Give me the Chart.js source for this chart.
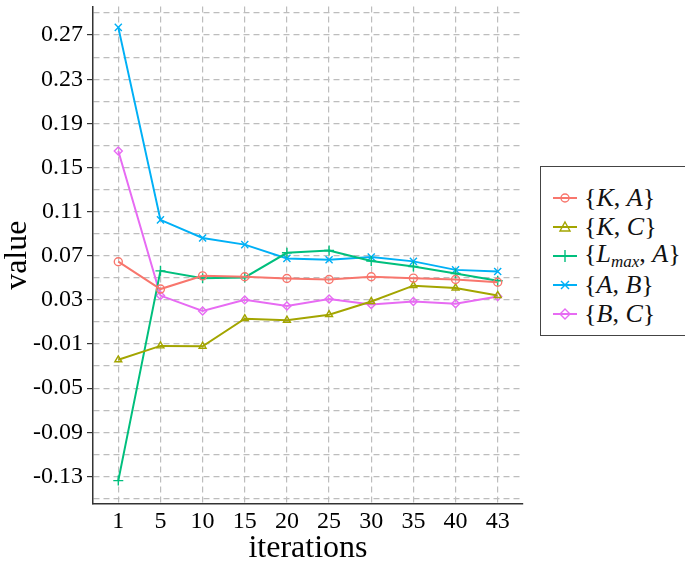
<!DOCTYPE html>
<html>

<head>
    <title>value vs iterations</title>
    <style>
        body { margin: 0; background: #fff; }
        #wrap { position: relative; width: 685px; height: 561px; overflow: hidden; }
        #legend {
            position: absolute; left: 540px; top: 166px; width: 190px; height: 170px;
            border: 1.5px solid #444; border-right: none; background: #fff;
            font-family: "Liberation Serif", serif; font-size: 26px; color: #111;
            padding-top: 16px; box-sizing: border-box;
        }
        .item { display: flex; align-items: center; height: 29px; padding-left: 12px; white-space: nowrap; }
        .item svg { margin-right: 7px; }
        .item i sub { font-size: 17px; vertical-align: -5px; }
    </style>
</head>

<body>
    <div id="wrap">
        <canvas id="myChart" width="685" height="561"></canvas>
        <div id="legend"></div>
    </div>
    <script src="https://cdn.jsdelivr.net/npm/chart.js@4.4.0/dist/chart.umd.min.js"></script>

    <script type="text/javascript">
        const iterations = ['1', '5', '10', '15', '20', '25', '30', '35', '40', '43'];

        const KA   = [0.0646, 0.0398, 0.0518, 0.0510, 0.0494, 0.0485, 0.0510, 0.0497, 0.0485, 0.0460];
        const KC   = [-0.0243, -0.0117, -0.0120, 0.0130, 0.0116, 0.0166, 0.0286, 0.0429, 0.0408, 0.0340];
        const LA   = [-0.1338, 0.0563, 0.0497, 0.0503, 0.0727, 0.0748, 0.0652, 0.0602, 0.0539, 0.0474];
        const AB   = [0.2770, 0.1025, 0.0861, 0.0801, 0.0676, 0.0664, 0.0688, 0.0649, 0.0572, 0.0557];
        const BC   = [0.1650, 0.0339, 0.0199, 0.0300, 0.0244, 0.0309, 0.0259, 0.0286, 0.0264, 0.0330];

        const yLabels = [-0.13, -0.09, -0.05, -0.01, 0.03, 0.07, 0.11, 0.15, 0.19, 0.23, 0.27];

        const series = [
            { name: '{<i>K</i>, <i>A</i>}', data: KA, color: '#F8766D', style: 'circle' },
            { name: '{<i>K</i>, <i>C</i>}', data: KC, color: '#A3A500', style: 'triangle' },
            { name: '{<i>L<sub>max</sub></i>, <i>A</i>}', data: LA, color: '#00BF7D', style: 'cross' },
            { name: '{<i>A</i>, <i>B</i>}', data: AB, color: '#00B0F6', style: 'crossRot' },
            { name: '{<i>B</i>, <i>C</i>}', data: BC, color: '#E76BF3', style: 'rectRot' }
        ];

        const isMajor = v => yLabels.some(l => Math.abs(l - v) < 1e-6);
        const gridGray = '#bdbdbd';
        const axisDark = '#333';

        const ctx = document.getElementById('myChart').getContext('2d');
        const chart = new Chart(ctx, {
            type: 'line',
            data: {
                datasets: series.map(s => ({
                    label: s.name,
                    data: s.data.map((v, i) => ({ x: i, y: v })),
                    borderColor: s.color,
                    backgroundColor: 'rgba(0,0,0,0)',
                    borderWidth: 2,
                    pointStyle: s.style,
                    pointRadius: s.style === 'cross' || s.style === 'crossRot' ? 5 : 4,
                    pointBorderWidth: 1.4,
                    pointBorderColor: s.color,
                    pointBackgroundColor: 'rgba(0,0,0,0)',
                    tension: 0,
                    fill: false
                }))
            },
            options: {
                responsive: false,
                animation: false,
                layout: { padding: { left: 0, right: 162, top: 0, bottom: 0 } },
                plugins: { legend: { display: false }, tooltip: { enabled: false } },
                scales: {
                    x: {
                        type: 'linear',
                        min: -0.6,
                        max: 9.6,
                        afterBuildTicks: scale => {
                            scale.ticks = iterations.map((t, i) => ({ value: i }));
                        },
                        afterFit: scale => {
                            scale.height = 57;
                            scale.paddingLeft = 0;
                            scale.paddingRight = 0;
                        },
                        ticks: {
                            callback: v => iterations[v],
                            font: { family: 'Liberation Serif', size: 24 },
                            color: '#000',
                            padding: 3,
                            maxRotation: 0,
                            autoSkip: false
                        },
                        grid: { color: gridGray, lineWidth: 1.2, drawTicks: false },
                        border: { display: true, color: axisDark, width: 1.5, dash: [6, 4] },
                        title: {
                            display: true,
                            text: 'iterations',
                            font: { family: 'Liberation Serif', size: 32, lineHeight: 0.8 },
                            color: '#000',
                            padding: { top: 0, bottom: 0 }
                        }
                    },
                    y: {
                        type: 'linear',
                        min: -0.155,
                        max: 0.296,
                        afterBuildTicks: scale => {
                            const t = [];
                            for (let k = 0; k <= 22; k++) t.push({ value: Math.round((-0.15 + k * 0.02) * 100) / 100 });
                            scale.ticks = t;
                        },
                        afterFit: scale => {
                            scale.width = 93;
                            scale.paddingTop = 0;
                            scale.paddingBottom = 0;
                        },
                        ticks: {
                            callback: v => isMajor(v) ? v.toFixed(2) : '',
                            font: { family: 'Liberation Serif', size: 24 },
                            color: '#000',
                            padding: 4,
                            autoSkip: false
                        },
                        grid: {
                            color: gridGray,
                            lineWidth: 1.2,
                            tickLength: 6,
                            tickColor: c => (c.tick && isMajor(c.tick.value)) ? axisDark : 'rgba(0,0,0,0)',
                            tickWidth: 1.2
                        },
                        border: { display: true, color: axisDark, width: 1.5, dash: [6, 4] },
                        title: {
                            display: true,
                            text: 'value',
                            font: { family: 'Liberation Serif', size: 32, lineHeight: 1 },
                            color: '#000',
                            padding: { top: 2, bottom: 0 }
                        }
                    }
                }
            }
        });

        // legend with subscripts, drawn as html
        function icon(s) {
            const c = s.color;
            let m = '';
            if (s.style === 'circle') m = `<circle cx="12" cy="10" r="4" fill="none" stroke="${c}" stroke-width="1.4"/>`;
            if (s.style === 'triangle') m = `<polygon points="12,5 17,14 7,14" fill="none" stroke="${c}" stroke-width="1.4"/>`;
            if (s.style === 'cross') m = `<line x1="12" y1="4" x2="12" y2="16" stroke="${c}" stroke-width="1.4"/>`;
            if (s.style === 'crossRot') m = `<line x1="8" y1="6" x2="16" y2="14" stroke="${c}" stroke-width="1.4"/><line x1="16" y1="6" x2="8" y2="14" stroke="${c}" stroke-width="1.4"/>`;
            if (s.style === 'rectRot') m = `<polygon points="12,5 17,10 12,15 7,10" fill="none" stroke="${c}" stroke-width="1.4"/>`;
            return `<svg width="24" height="20"><line x1="0" y1="10" x2="24" y2="10" stroke="${c}" stroke-width="2"/>${m}</svg>`;
        }
        document.getElementById('legend').innerHTML = series
            .map(s => `<div class="item">${icon(s)}<span>${s.name}</span></div>`).join('');
    </script>
</body>

</html>
